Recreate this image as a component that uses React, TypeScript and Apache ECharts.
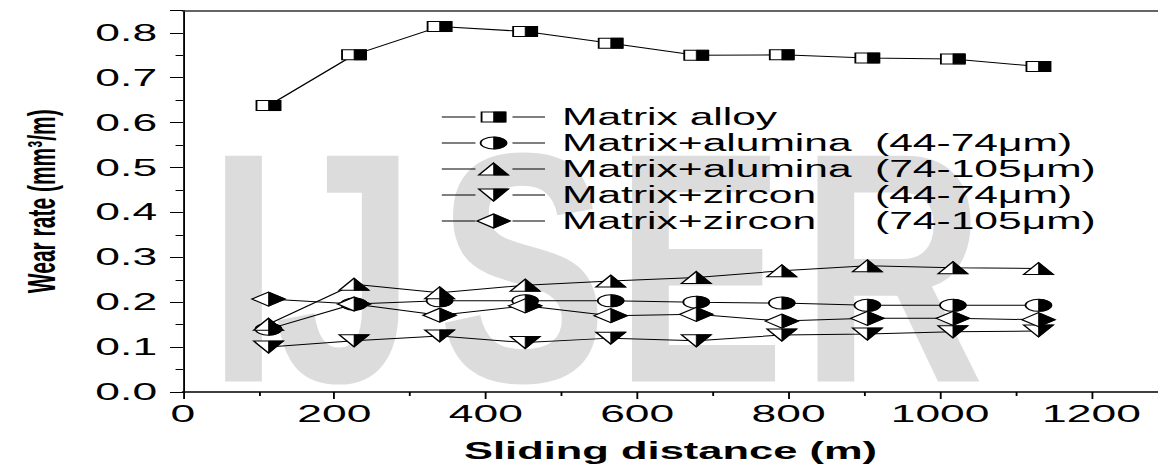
import React, { useEffect, useRef } from "react";
import * as echarts from "echarts";

// ---- data ----
const distances = [113, 226, 339, 452, 565, 678, 791, 904, 1017, 1130];
const matrixAlloy = [0.638, 0.751, 0.814, 0.803, 0.777, 0.75, 0.751, 0.744, 0.742, 0.725];
const alumina44 = [0.14, 0.196, 0.203, 0.203, 0.203, 0.2, 0.198, 0.193, 0.193, 0.193];
const alumina74 = [0.151, 0.24, 0.221, 0.238, 0.247, 0.255, 0.27, 0.281, 0.277, 0.275];
const zircon44 = [0.1, 0.114, 0.125, 0.11, 0.12, 0.114, 0.127, 0.129, 0.134, 0.136];
const zircon74 = [0.207, 0.196, 0.171, 0.192, 0.17, 0.173, 0.158, 0.164, 0.164, 0.161];

const seriesValues = [matrixAlloy, alumina44, alumina74, zircon44, zircon74];
const seriesNames = [
  "Matrix alloy",
  "Matrix+alumina (44-74μm)",
  "Matrix+alumina (74-105μm)",
  "Matrix+zircon (44-74μm)",
  "Matrix+zircon (74-105μm)",
];
const legendMain = ["Matrix alloy", "Matrix+alumina", "Matrix+alumina", "Matrix+zircon", "Matrix+zircon"];
const legendSize = ["", "(44-74μm)", "(74-105μm)", "(44-74μm)", "(74-105μm)"];
const markerShapes = ["square", "circle", "triangle", "triangleDown", "diamond"];

const xAxisTitle = "Sliding distance (m)";
const yAxisTitle = "Wear rate (mm³/m)";
const watermarkLetters = ["I", "J", "S", "E", "R"];

// ---- layout ----
const SCALE_X = 1.85;
const PAGE_W = 1159;
const PAGE_H = 468;
const INNER_W = PAGE_W / SCALE_X;
const FONT = "'Liberation Sans', Arial, Helvetica, sans-serif";
const watermarkCentersPx = [243.5, 345, 522.5, 700, 892.5];

function markerParts(shape: string, x: number, y: number): any[] {
  const outline = { fill: "#fff", stroke: "#000", lineWidth: 1 };
  const black = { fill: "#000", stroke: "#000", lineWidth: 0.5 };
  if (shape === "square") {
    const a = 6.5, b = 5;
    return [
      { type: "rect", shape: { x: x - a, y: y - b, width: 2 * a, height: 2 * b }, style: outline },
      { type: "rect", shape: { x: x, y: y - b, width: a, height: 2 * b }, style: black },
    ];
  }
  if (shape === "circle") {
    const a = 7, b = 6;
    const pts: number[][] = [];
    for (let k = 0; k <= 16; k++) {
      const t = -Math.PI / 2 + (Math.PI * k) / 16;
      pts.push([x + a * Math.cos(t), y + b * Math.sin(t)]);
    }
    return [
      { type: "ellipse", shape: { cx: x, cy: y, rx: a, ry: b }, style: outline },
      { type: "polygon", shape: { points: pts }, style: black },
    ];
  }
  if (shape === "triangle") {
    const a = 8, b = 6;
    return [
      { type: "polygon", shape: { points: [[x, y - b], [x + a, y + b], [x - a, y + b]] }, style: outline },
      { type: "polygon", shape: { points: [[x, y - b], [x + a, y + b], [x, y + b]] }, style: black },
    ];
  }
  if (shape === "triangleDown") {
    const a = 8, b = 6;
    return [
      { type: "polygon", shape: { points: [[x - a, y - b], [x + a, y - b], [x, y + b]] }, style: outline },
      { type: "polygon", shape: { points: [[x, y - b], [x + a, y - b], [x, y + b]] }, style: black },
    ];
  }
  const a = 9, b = 7;
  return [
    { type: "polygon", shape: { points: [[x, y - b], [x + a, y], [x, y + b], [x - a, y]] }, style: outline },
    { type: "polygon", shape: { points: [[x, y - b], [x + a, y], [x, y + b]] }, style: black },
  ];
}

export default function App() {
  const ref = useRef<HTMLDivElement>(null);

  useEffect(() => {
    if (!ref.current) return;
    const chart = echarts.init(ref.current, null, { renderer: "svg" });

    const lineSeries = seriesValues.map((vals, i) => ({
      type: "line",
      name: seriesNames[i],
      data: distances.map((d, j) => [d, vals[j]]),
      symbol: "none",
      lineStyle: { color: "#000", width: 1 },
      z: 3,
      silent: true,
    }));

    const markerSeries = seriesValues.map((vals, i) => ({
      type: "custom",
      name: seriesNames[i] + " markers",
      data: distances.map((d, j) => [d, vals[j]]),
      encode: { x: 0, y: 1 },
      z: 5,
      silent: true,
      renderItem: (_params: any, api: any) => {
        const p = api.coord([api.value(0), api.value(1)]);
        return { type: "group", children: markerParts(markerShapes[i], p[0], p[1]) };
      },
    }));

    // legend drawn with graphic elements
    const legendRowsY = [117, 143, 169, 195, 221];
    const legendEls: any[] = [];
    legendMain.forEach((name, i) => {
      const y = legendRowsY[i];
      legendEls.push({
        type: "line",
        shape: { x1: 238.8, y1: y, x2: 257, y2: y },
        style: { stroke: "#000", lineWidth: 1 },
      });
      legendEls.push({
        type: "line",
        shape: { x1: 277, y1: y, x2: 294.6, y2: y },
        style: { stroke: "#000", lineWidth: 1 },
      });
      markerParts(markerShapes[i], 266.8, y).forEach((m) => legendEls.push(m));
      legendEls.push({
        type: "text",
        x: 303.8,
        y: y,
        style: { text: name, fontSize: 23, fontFamily: FONT, fill: "#000", verticalAlign: "middle", align: "left" },
      });
      if (legendSize[i]) {
        legendEls.push({
          type: "text",
          x: 473,
          y: y,
          style: { text: legendSize[i], fontSize: 23, fontFamily: FONT, fill: "#000", verticalAlign: "middle", align: "left" },
        });
      }
    });

    const watermarkEls = watermarkLetters.map((ch, i) => ({
      type: "text",
      z: -10,
      x: watermarkCentersPx[i] / SCALE_X,
      y: 267.5,
      scaleX: 0.42,
      silent: true,
      style: {
        text: ch,
        fontSize: 328,
        fontWeight: "bold",
        fontFamily: FONT,
        fill: "#dcdcdc",
        verticalAlign: "middle",
        align: "center",
      },
    }));

    const option: any = {
      animation: false,
      backgroundColor: "#fff",
      grid: { left: 98.9, right: 0, top: 10.4, bottom: 74, containLabel: false },
      xAxis: [
        {
          type: "value",
          min: 0,
          max: 1288,
          interval: 200,
          position: "bottom",
          axisLine: { show: true, lineStyle: { color: "#000", width: 1.5 } },
          axisTick: { show: true, length: 7, lineStyle: { color: "#000", width: 1 } },
          minorTick: { show: true, splitNumber: 2, length: 4, lineStyle: { color: "#000", width: 1 } },
          splitLine: { show: false },
          axisLabel: {
            fontSize: 24,
            color: "#000",
            margin: 10,
            fontFamily: FONT,
            showMaxLabel: false,
            formatter: (v: number) => String(Math.round(v)),
          },
          name: xAxisTitle,
          nameLocation: "middle",
          nameGap: 47,
          nameTextStyle: { fontSize: 23.5, fontWeight: "bold", color: "#000", fontFamily: FONT },
        },
        {
          type: "value",
          min: 0,
          max: 1288,
          position: "top",
          axisLine: { show: true, lineStyle: { color: "#333", width: 1.5 } },
          axisTick: { show: false },
          axisLabel: { show: false },
          splitLine: { show: false },
        },
      ],
      yAxis: {
        type: "value",
        min: 0,
        max: 0.85,
        interval: 0.1,
        axisLine: { show: true, lineStyle: { color: "#000", width: 1 } },
        axisTick: { show: true, length: 7, lineStyle: { color: "#000", width: 1 } },
        minorTick: { show: true, splitNumber: 2, length: 4, lineStyle: { color: "#000", width: 1 } },
        splitLine: { show: false },
        axisLabel: {
          fontSize: 24,
          color: "#000",
          margin: 14,
          fontFamily: FONT,
          showMaxLabel: false,
          formatter: (v: number) => v.toFixed(1),
        },
        name: yAxisTitle,
        nameLocation: "middle",
        nameGap: 66,
        nameTextStyle: { fontSize: 21, fontWeight: "bold", color: "#000", fontFamily: FONT },
      },
      graphic: [
        { type: "group", z: -10, silent: true, children: watermarkEls },
        { type: "group", z: 20, children: legendEls },
      ],
      series: [...lineSeries, ...markerSeries],
    };

    chart.setOption(option);
    return () => chart.dispose();
  }, []);

  return (
    <div
      ref={ref}
      style={{
        position: "fixed",
        left: 0,
        top: 0,
        width: INNER_W + "px",
        height: PAGE_H + "px",
        transform: `scaleX(${SCALE_X})`,
        transformOrigin: "0 0",
        background: "#fff",
      }}
    />
  );
}
